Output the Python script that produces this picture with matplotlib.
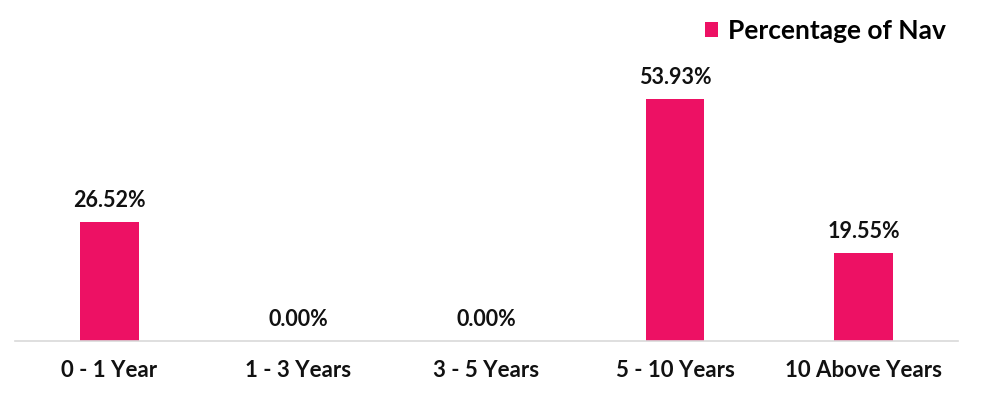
import matplotlib.pyplot as plt
from matplotlib.patches import Patch

categories = ["0 - 1 Year", "1 - 3 Years", "3 - 5 Years", "5 - 10 Years", "10 Above Years"]
nav_pct = [26.52, 0.00, 0.00, 53.93, 19.55]
series_name = "Percentage of Nav"

bar_color = "#ED1164"
plt.rcParams["font.family"] = ["Lato", "DejaVu Sans"]
plt.rcParams["font.weight"] = "bold"

fig = plt.figure(figsize=(9.83, 4.01), dpi=100)
ax = fig.add_axes([15 / 983, 60 / 401, 943 / 983, 269 / 401])

x = range(len(categories))
bars = ax.bar(x, nav_pct, width=0.31, color=bar_color)

for xi, v in zip(x, nav_pct):
    ax.annotate(f"{v:.2f}%", (xi, v), xytext=(0, 8), textcoords="offset points",
                ha="center", va="bottom", fontsize=15.5, fontweight="bold", color="#111111")

ax.set_xlim(-0.5, len(categories) - 0.5)
ax.set_ylim(0, 60)
ax.set_xticks(list(x))
ax.set_xticklabels(categories, fontsize=16, fontweight="bold", color="#111111")
ax.tick_params(axis="x", length=0, pad=14)
ax.set_yticks([])
for s in ["top", "right", "left"]:
    ax.spines[s].set_visible(False)
ax.spines["bottom"].set_color("#d9d9d9")
ax.spines["bottom"].set_linewidth(1.2)

handle = Patch(facecolor=bar_color, edgecolor="none")
fig.legend([handle], [series_name], loc="upper right", bbox_to_anchor=(0.986, 1.012),
           frameon=False, handlelength=0.5, handleheight=0.5, handletextpad=0.35,
           prop={"family": ["Lato", "DejaVu Sans"], "weight": "bold", "size": 19})

fig.savefig("out.png", dpi=100)
